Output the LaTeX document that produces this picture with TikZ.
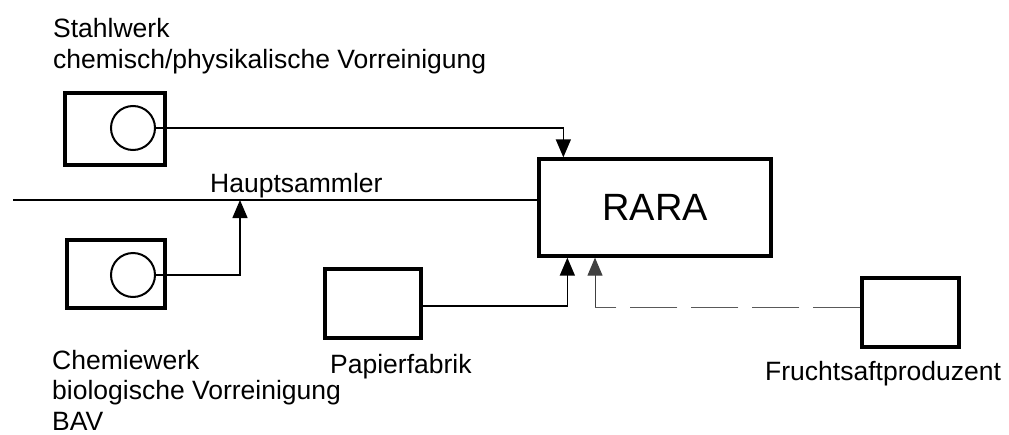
\documentclass[tikz,border=0pt]{standalone}
\usepackage{fontspec}
\setmainfont{Liberation Sans}
\usetikzlibrary{arrows.meta}
\begin{document}
\begin{tikzpicture}[x=1pt,y=-1pt,
  plant/.style={draw, line width=3.3pt, inner sep=0pt},
  valve/.style={draw, circle, line width=2pt, minimum size=44pt, inner sep=0pt, outer sep=0pt},
  lbl/.style={font=\fontsize{26.5}{30.5}\selectfont, inner sep=0pt, align=left, anchor=base west},
  pipe/.style={line width=1.4pt},
  flow/.style={line width=1.4pt, -{Triangle[width=15pt,length=18pt]}},
  thinflow/.style={line width=1pt, draw=black!75, -{Triangle[width=15pt,length=18pt]}},
  dashline/.style={line width=1pt, draw=black!65, dash pattern=on 47pt off 14pt}]
\useasboundingbox (0,0) rectangle (1009,434);
% boxes
\node[plant, minimum width=100pt, minimum height=72pt] (st) at (115,129) {};
\node[valve] (stc) at (133,128) {};
\node[plant, minimum width=98pt, minimum height=68pt] (ch) at (116,274) {};
\node[valve] (chc) at (133,275) {};
\node[plant, minimum width=96pt, minimum height=69pt] (pa) at (373,303.5) {};
\node[plant, minimum width=97pt, minimum height=69pt] (fr) at (910.5,312.5) {};
\node[plant, minimum width=232pt, minimum height=97pt, font=\fontsize{38}{40}\selectfont] (ra) at (655,207.5) {RARA};
% Hauptsammler
\coordinate (hs) at (13,200);
\coordinate (j) at (240,200);
\draw[pipe] (hs) -- (hs -| ra.west);
% connectors
\draw[flow] (stc.east) -| ([xshift=26pt]ra.north west);
\draw[flow] (chc.east) -| (j);
\draw[flow] ([yshift=-2.5pt]pa.east) -| ([xshift=30pt]ra.south west);
\coordinate (fc) at (595,307);
\draw[dashline] ([yshift=5.5pt]fr.west) -- (fc);
\draw[thinflow] (fc) -- (fc |- ra.south);
% labels
\node[lbl] (hsl) at (210,192) {Hauptsammler};
\node[lbl] (stl) at (53,68) {Stahlwerk\\chemisch/physikalische Vorreinigung};
\node[lbl] (chl) at (52,430) {Chemiewerk\\biologische Vorreinigung\\BAV};
\node[lbl] (pal) at (330,373) {Papierfabrik};
\node[lbl] (frl) at (765,380) {Fruchtsaftproduzent};
\end{tikzpicture}
\end{document}
